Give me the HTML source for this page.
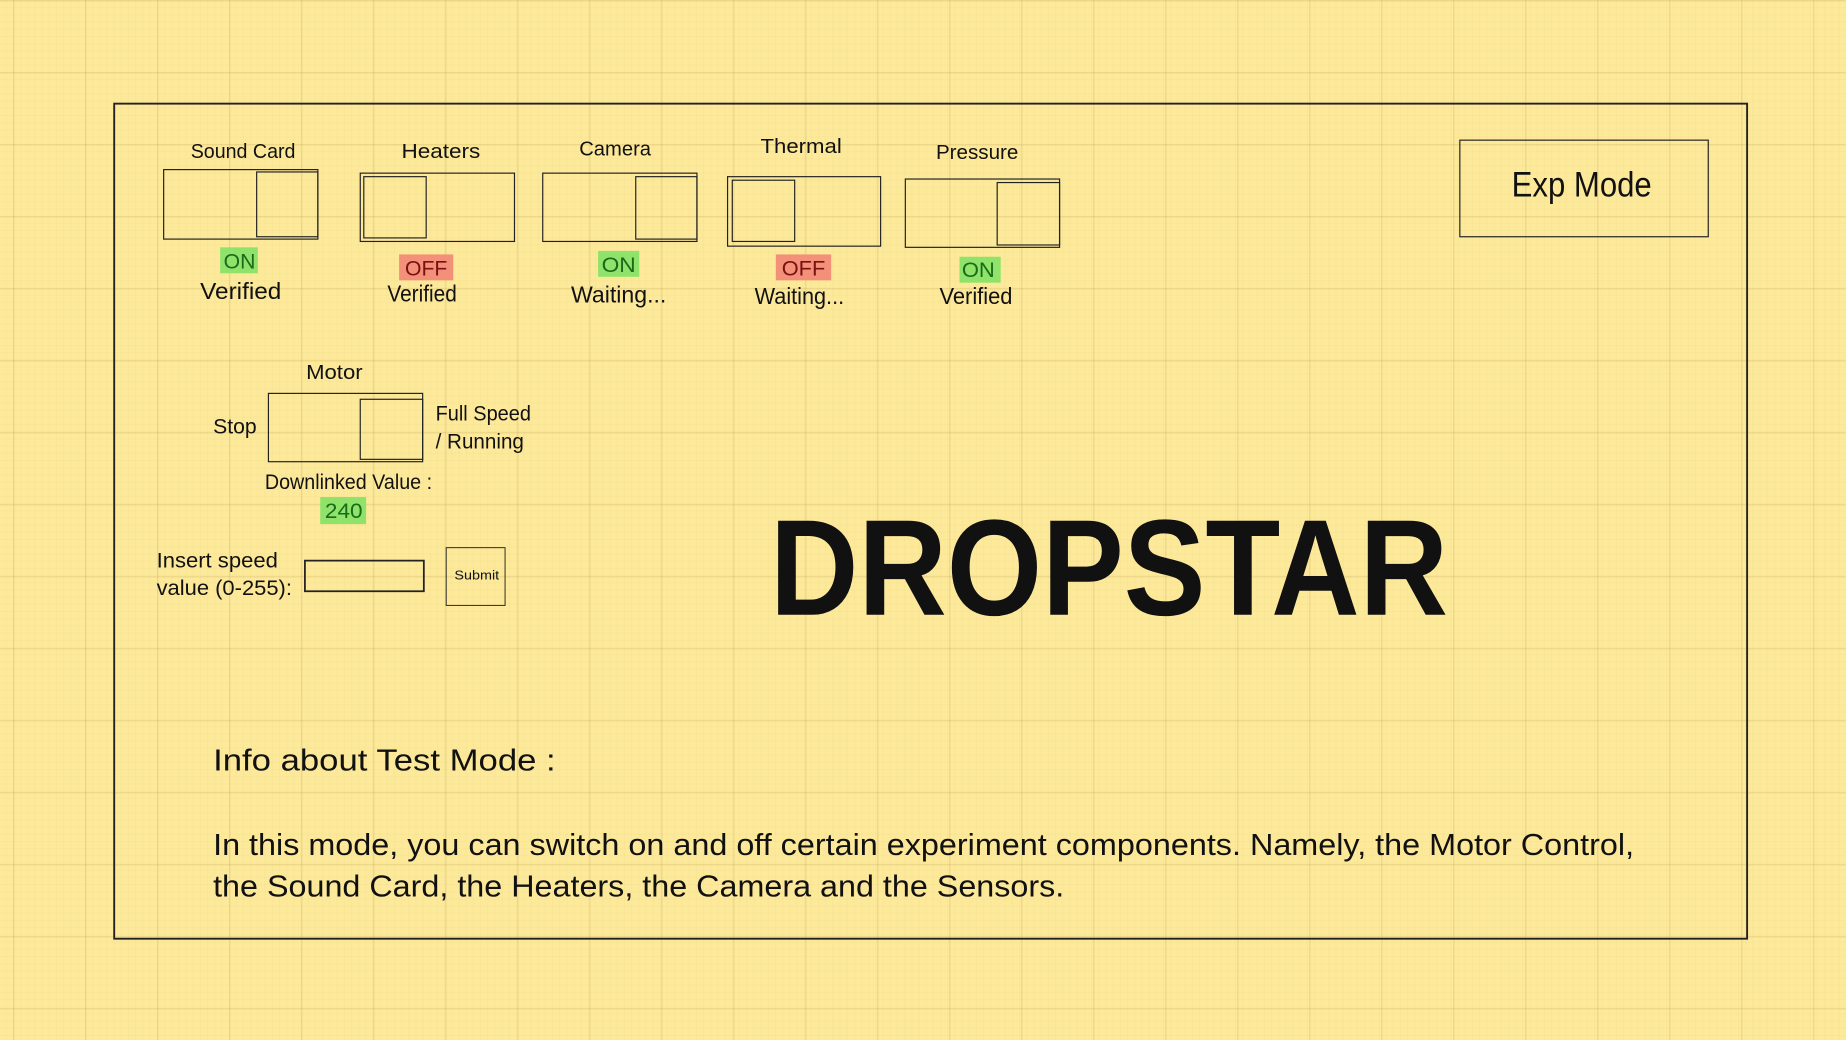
<!DOCTYPE html>
<html><head><meta charset="utf-8"><style>
html,body{margin:0;padding:0;}
body{width:1846px;height:1040px;overflow:hidden;background-color:#fde99a;
background-image:
linear-gradient(to right, rgba(190,160,80,0.22) 1.5px, transparent 1.5px),
linear-gradient(to bottom, rgba(190,160,80,0.22) 1.5px, transparent 1.5px),
linear-gradient(to right, rgba(200,170,90,0.07) 1px, transparent 1px),
linear-gradient(to bottom, rgba(200,170,90,0.07) 1px, transparent 1px);
background-size:72px 72px,72px 72px,7.2px 7.2px,7.2px 7.2px;
background-position:13px 0,0 0,13px 0,0 0;}
svg{position:absolute;left:0;top:0;}
text{font-family:"Liberation Sans Narrow","Liberation Sans",sans-serif;fill:#111;}
</style></head><body>
<svg width="1846" height="1040" viewBox="0 0 1568 883" preserveAspectRatio="none">
<g fill="none" stroke="#222">
<rect x="97" y="88" width="1387" height="709" stroke-width="1.6"/>
<rect x="1240" y="119" width="211" height="82" stroke-width="1"/>
<rect x="139" y="144" width="131" height="59"/><rect x="218" y="146" width="52" height="55"/>
<rect x="306" y="147" width="131" height="58"/><rect x="309" y="150" width="53" height="52"/>
<rect x="461" y="147" width="131" height="58"/><rect x="540" y="150" width="52" height="53"/>
<rect x="618" y="150" width="130" height="59"/><rect x="622" y="153" width="53" height="52"/>
<rect x="769" y="152" width="131" height="58"/><rect x="847" y="155" width="53" height="53"/>
<rect x="228" y="334" width="131" height="58"/><rect x="306" y="339" width="53" height="51"/>
<rect x="259" y="476" width="101" height="26" stroke-width="1.5"/>
<rect x="379" y="465" width="50" height="49" stroke-width="0.8"/>
</g>
<g stroke="none">
<rect x="187" y="210" width="32" height="22" fill="#8fe36a"/>
<rect x="339" y="216" width="46" height="22" fill="#f2907a"/>
<rect x="508" y="213" width="35" height="22" fill="#8fe36a"/>
<rect x="659" y="216" width="47" height="22" fill="#f2907a"/>
<rect x="815" y="218" width="35" height="22" fill="#8fe36a"/>
<rect x="272" y="422" width="39" height="23" fill="#8fe36a"/>
</g>
<text x="1284" y="167" font-size="30" textLength="119" lengthAdjust="spacingAndGlyphs">Exp Mode</text>
<g font-size="17">
<text x="162" y="134" textLength="89" lengthAdjust="spacingAndGlyphs">Sound Card</text>
<text x="341" y="134" textLength="67" lengthAdjust="spacingAndGlyphs">Heaters</text>
<text x="492" y="132" textLength="61" lengthAdjust="spacingAndGlyphs">Camera</text>
<text x="646" y="130" textLength="69" lengthAdjust="spacingAndGlyphs">Thermal</text>
<text x="795" y="135" textLength="70" lengthAdjust="spacingAndGlyphs">Pressure</text>
<text x="260" y="322" textLength="48" lengthAdjust="spacingAndGlyphs">Motor</text>
</g>
<g font-size="18">
<text x="190" y="228" style="fill:#1a6a1a" textLength="27" lengthAdjust="spacingAndGlyphs">ON</text>
<text x="344" y="234" style="fill:#7a1010" textLength="36" lengthAdjust="spacingAndGlyphs">OFF</text>
<text x="511" y="231" style="fill:#1a6a1a" textLength="29" lengthAdjust="spacingAndGlyphs">ON</text>
<text x="664" y="234" style="fill:#7a1010" textLength="37" lengthAdjust="spacingAndGlyphs">OFF</text>
<text x="817" y="235" style="fill:#1a6a1a" textLength="28" lengthAdjust="spacingAndGlyphs">ON</text>
<text x="276" y="440" style="fill:#1a6a1a" textLength="32" lengthAdjust="spacingAndGlyphs">240</text>
</g>
<g font-size="20">
<text x="170" y="254" textLength="69" lengthAdjust="spacingAndGlyphs">Verified</text>
<text x="329" y="256" textLength="59" lengthAdjust="spacingAndGlyphs">Verified</text>
<text x="485" y="257" textLength="81" lengthAdjust="spacingAndGlyphs">Waiting...</text>
<text x="641" y="258" textLength="76" lengthAdjust="spacingAndGlyphs">Waiting...</text>
<text x="798" y="258" textLength="62" lengthAdjust="spacingAndGlyphs">Verified</text>
</g>
<g font-size="18">
<text x="181" y="368" textLength="37" lengthAdjust="spacingAndGlyphs">Stop</text>
<text x="370" y="357" textLength="81" lengthAdjust="spacingAndGlyphs">Full Speed</text>
<text x="370" y="381" textLength="75" lengthAdjust="spacingAndGlyphs">/ Running</text>
<text x="225" y="415" textLength="142" lengthAdjust="spacingAndGlyphs">Downlinked Value :</text>
<text x="133" y="482" textLength="103" lengthAdjust="spacingAndGlyphs">Insert speed</text>
<text x="133" y="505" textLength="115" lengthAdjust="spacingAndGlyphs">value (0-255):</text>
</g>
<text x="386" y="492" font-size="11" textLength="38" lengthAdjust="spacingAndGlyphs">Submit</text>
<text x="654" y="522" font-size="116" font-weight="bold" textLength="576" lengthAdjust="spacingAndGlyphs" style="font-family:'Liberation Sans',sans-serif">DROPSTAR</text>
<g font-size="26">
<text x="181" y="654" textLength="291" lengthAdjust="spacingAndGlyphs">Info about Test Mode :</text>
<text x="181" y="726" textLength="1207" lengthAdjust="spacingAndGlyphs">In this mode, you can switch on and off certain experiment components. Namely, the Motor Control,</text>
<text x="181" y="761" textLength="723" lengthAdjust="spacingAndGlyphs">the Sound Card, the Heaters, the Camera and the Sensors.</text>
</g>
</svg>
</body></html>
